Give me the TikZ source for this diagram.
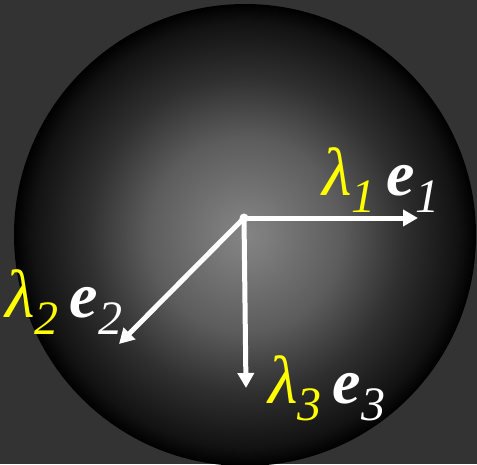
\documentclass[tikz,border=0pt]{standalone}
\usepackage{fontspec}
\setmainfont{Liberation Serif}
\usetikzlibrary{arrows.meta}
\definecolor{bgc}{HTML}{333333}
\definecolor{lamc}{HTML}{FFFF00}
\definecolor{sc0}{HTML}{848484}
\definecolor{sc1}{HTML}{7C7C7C}
\definecolor{sc2}{HTML}{5C5C5C}
\definecolor{sc3}{HTML}{303030}
\definecolor{sc4}{HTML}{121212}
\pgfdeclareradialshading{sphere}{\pgfpoint{0bp}{0bp}}{%
  color(0bp)=(sc0); color(2.5bp)=(sc1); color(10.5bp)=(sc2); color(17bp)=(sc3); color(23bp)=(sc4); color(25bp)=(black); color(50bp)=(black)}
\newcommand\mysub[1]{\raisebox{-17pt}{\fontsize{48}{48}\selectfont\itshape #1}}
\newcommand\lam{{\fontsize{68}{68}\selectfont λ}}
\newcommand\evec{{\fontsize{64}{64}\selectfont\bfseries e}}
\tikzset{
  vec/.style={draw=white, line width=5pt, -{Triangle[length=15pt,width=16pt]}},
  lbl/.style={inner sep=0pt, anchor=base west, font=\fontsize{60}{66}\selectfont\itshape},
  dot/.style={circle, fill=white, inner sep=0pt, minimum size=9pt}
}
\begin{document}
\begin{tikzpicture}[x=1pt,y=-1pt]
  \fill[bgc] (0,0) rectangle (477,464);
  \useasboundingbox (0,0) rectangle (477,464);
  \shade[shading=sphere] (245,235) circle (231);
  \node[dot] (O) at (244,218) {};
  \coordinate (E1) at (418,218);
  \coordinate (E2) at (119,344);
  \coordinate (E3) at (246,388);
  \draw[vec] (O.center) -- (E1);
  \draw[vec] (O.center) -- (E2);
  \draw[vec] (O.center) -- (E3);
  \node[lbl] (L1) at (322,195) {\textcolor{lamc}{\lam\mysub{1}}\hspace{11pt}\textcolor{white}{\evec\mysub{1}}};
  \node[lbl] (L2) at (5,317) {\textcolor{lamc}{\lam\mysub{2}}\hspace{11pt}\textcolor{white}{\evec\mysub{2}}};
  \node[lbl] (L3) at (268,403) {\textcolor{lamc}{\lam\mysub{3}}\hspace{11pt}\textcolor{white}{\evec\mysub{3}}};
\end{tikzpicture}
\end{document}
